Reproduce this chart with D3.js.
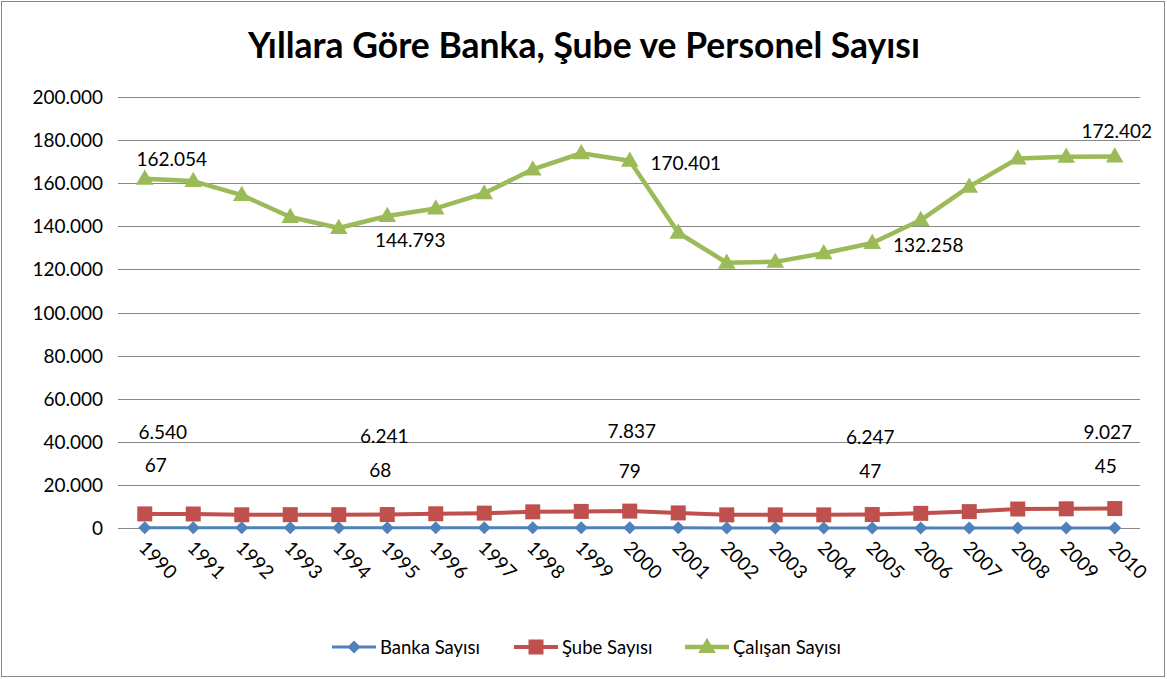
<!DOCTYPE html>
<html>
<head>
<meta charset="utf-8">
<script src="https://cdn.jsdelivr.net/npm/d3@7"></script>
<style>
  body { margin: 0; background: #fff; }
  svg text { font-family: Lato, "Open Sans", sans-serif; fill: #000; }
</style>
</head>
<body>
<svg id="chart"></svg>
<script>
const width = 1167;
const height = 679;

// data
const years = ["1990","1991","1992","1993","1994","1995","1996","1997","1998","1999","2000",
  "2001","2002","2003","2004","2005","2006","2007","2008","2009","2010"];
const bankaSayisi = [67,66,66,70,67,68,69,72,75,81,79,61,54,50,48,47,46,46,45,45,45];
const subeSayisi = [6540,6500,6130,6190,6180,6241,6600,6900,7500,7700,7837,7000,6100,6100,6100,6247,6800,7600,8800,8900,9027];
const calisanSayisi = [162054,161000,154500,144300,139200,144793,148300,155300,166400,173900,170401,
  137000,123100,123500,127500,132258,142900,158400,171500,172300,172402];
const seriesNames = ["Banka Sayısı", "Şube Sayısı", "Çalışan Sayısı"];
const labelIdx = [0, 5, 10, 15, 20];

const colors = ["#4F81BD", "#C0504D", "#9BBB59"];

const svg = d3.select("#chart").attr("width", width).attr("height", height);

// outer frame
svg.append("rect")
  .attr("x", 1.5).attr("y", 1.5)
  .attr("width", width - 4).attr("height", height - 4)
  .attr("fill", "#fff").attr("stroke", "#868686").attr("stroke-width", 1);

svg.append("text")
  .attr("x", 584).attr("y", 58)
  .attr("text-anchor", "middle")
  .style("font-size", "36px").style("font-weight", "bold")
  .attr("textLength", 672).attr("lengthAdjust", "spacingAndGlyphs")
  .text("Yıllara Göre Banka, Şube ve Personel Sayısı");

const x = d3.scalePoint().domain(years).range([120.5, 1139]).padding(0.5);
const y = d3.scaleLinear().domain([0, 200000]).range([528, 97]);

const tr = d3.formatLocale({ decimal: ",", thousands: ".", grouping: [3], currency: ["", ""] });
const fmt = tr.format(",");

// gridlines + y axis labels
const yTicks = d3.range(0, 200001, 20000);
svg.append("g").selectAll("line")
  .data(yTicks).join("line")
  .attr("x1", 118).attr("x2", 1140)
  .attr("y1", d => Math.round(y(d)) + 0.5).attr("y2", d => Math.round(y(d)) + 0.5)
  .attr("stroke", "#878787").attr("stroke-width", 1.2);

svg.append("g").selectAll("text")
  .data(yTicks).join("text")
  .attr("x", 103).attr("y", d => y(d) + 7)
  .attr("text-anchor", "end")
  .style("font-size", "19px")
  .text(d => fmt(d));

// x labels, rotated
svg.append("g").selectAll("text")
  .data(years).join("text")
  .attr("transform", d => `translate(${x(d) - 7},${549}) rotate(45)`)
  .style("font-size", "19px")
  .text(d => d);

const line = d3.line().x((d, i) => x(years[i])).y(d => y(d));

const allSeries = [bankaSayisi, subeSayisi, calisanSayisi];
const widths = [3, 4, 4.5];

allSeries.forEach((vals, s) => {
  svg.append("path")
    .datum(vals)
    .attr("d", line)
    .attr("fill", "none")
    .attr("stroke", colors[s])
    .attr("stroke-width", widths[s])
    .attr("stroke-linejoin", "round");
});

function marker(g, s, size) {
  if (s === 0) {
    g.append("path").attr("d", `M0,${-size}L${size},0L0,${size}L${-size},0Z`);
  } else if (s === 1) {
    g.append("rect").attr("x", -size).attr("y", -size).attr("width", size * 2).attr("height", size * 2);
  } else {
    g.append("path").attr("d", `M0,${-size * 1.15}L${size * 1.1},${size * 0.75}L${-size * 1.1},${size * 0.75}Z`);
  }
}

const markerSize = [6.5, 7.5, 8];
allSeries.forEach((vals, s) => {
  const g = svg.append("g").attr("fill", colors[s]);
  vals.forEach((v, i) => {
    const m = g.append("g").attr("transform", `translate(${x(years[i])},${y(v)})`);
    marker(m, s, markerSize[s]);
  });
});

// data label offsets (px) relative to the point, per series
const labelOffsets = [
  [[11, -63], [-7, -58], [0, -57], [-2, -57], [-9, -62]],
  [[18, -82], [-3, -79], [2, -80], [-2, -78], [-7, -77]],
  [[27, -20], [23, 24], [56, 2], [56, 2], [2, -25]]
];

allSeries.forEach((vals, s) => {
  svg.append("g").selectAll("text")
    .data(labelIdx).join("text")
    .attr("x", (d, k) => x(years[d]) + labelOffsets[s][k][0])
    .attr("y", (d, k) => y(vals[d]) + labelOffsets[s][k][1] + 7)
    .attr("text-anchor", "middle")
    .style("font-size", "19px")
    .text(d => fmt(vals[d]));
});

// legend
const legendX = [332, 514, 685];
const lg = svg.append("g");
seriesNames.forEach((name, s) => {
  const g = lg.append("g").attr("transform", `translate(${legendX[s]},647)`);
  g.append("line").attr("x1", 0).attr("x2", 44).attr("y1", 0).attr("y2", 0)
    .attr("stroke", colors[s]).attr("stroke-width", widths[s]);
  const m = g.append("g").attr("transform", "translate(22,0)").attr("fill", colors[s]);
  marker(m, s, markerSize[s]);
  g.append("text").attr("x", 48).attr("y", 7).style("font-size", "18.5px").text(name);
});
</script>
</body>
</html>
